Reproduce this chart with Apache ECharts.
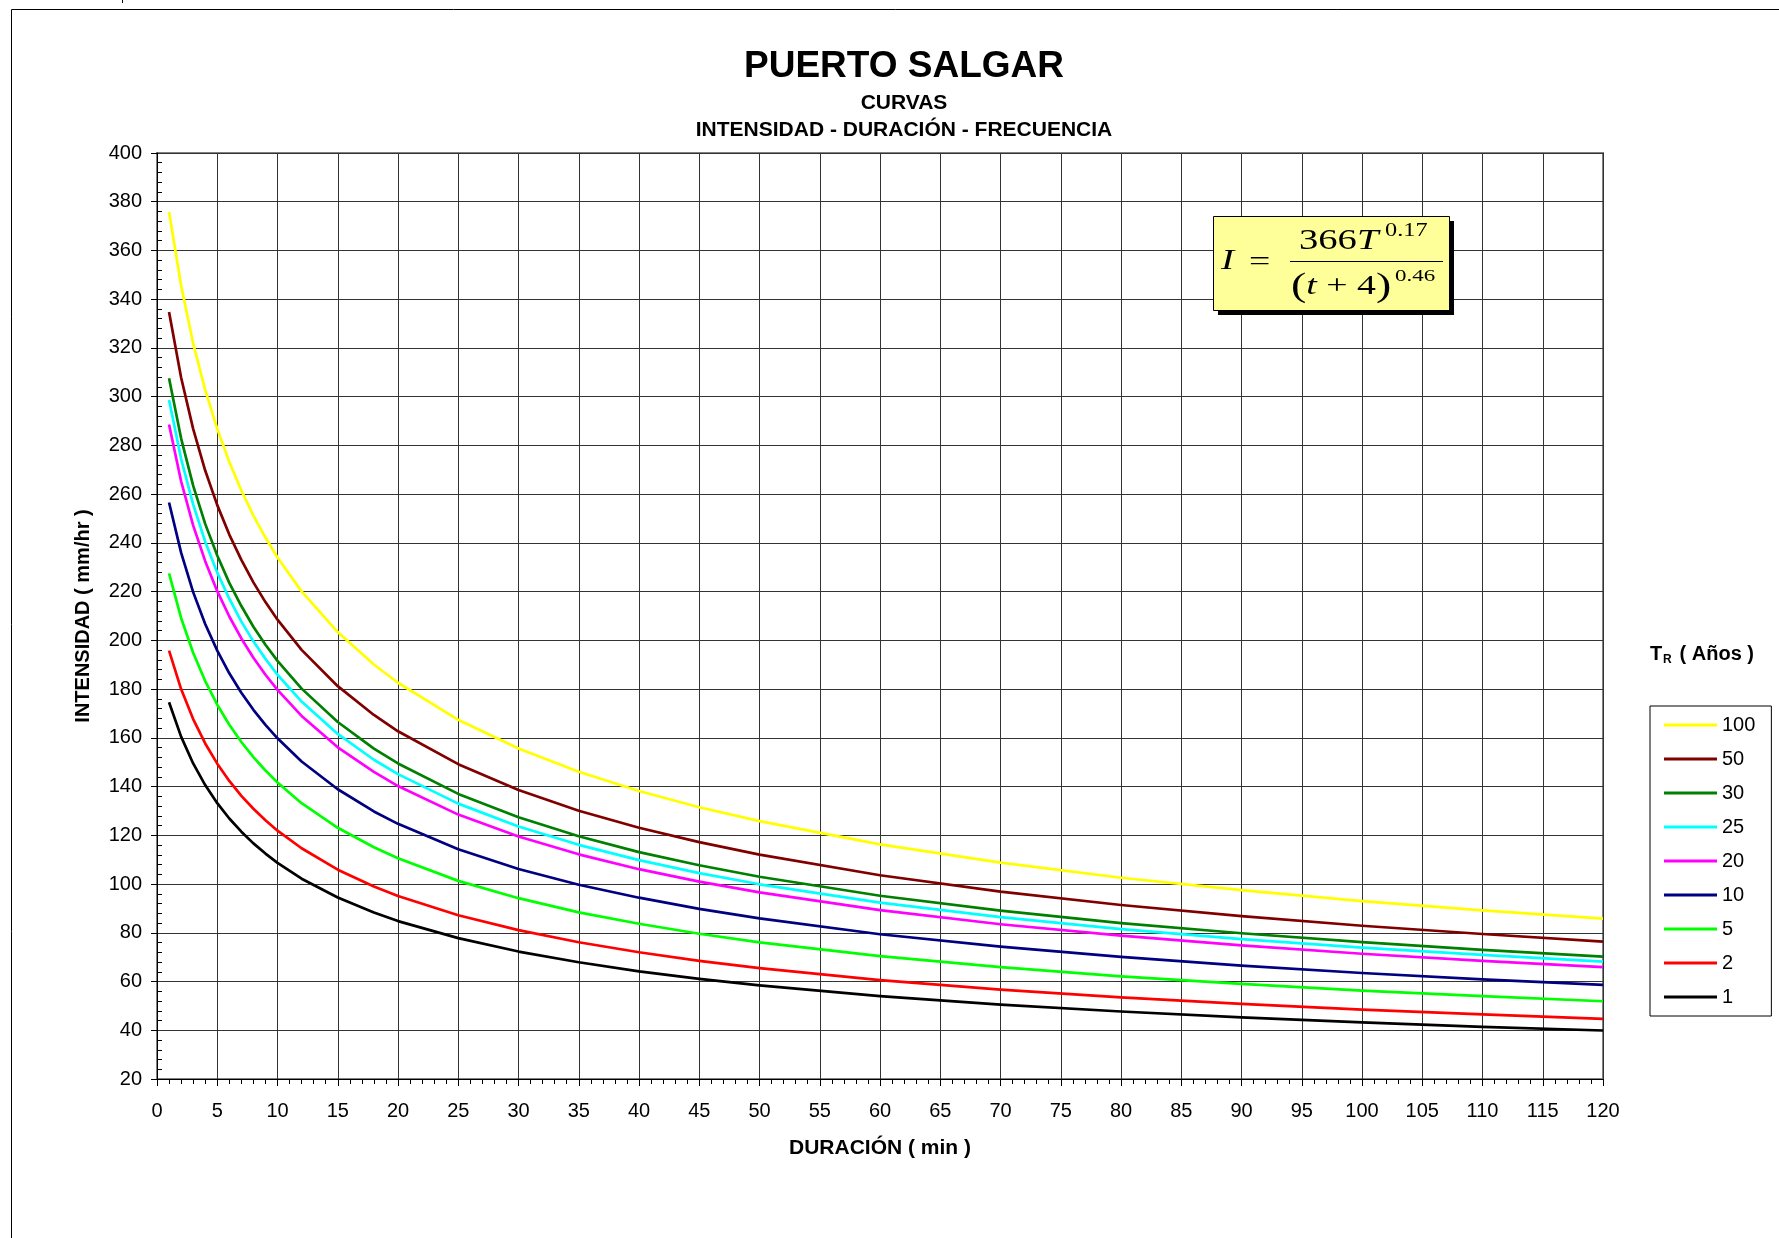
<!DOCTYPE html>
<html>
<head>
<meta charset="utf-8">
<script src="https://cdn.jsdelivr.net/npm/echarts@6/dist/echarts.min.js"></script>
<style>
html,body{margin:0;padding:0;background:#fff;}
#chart{width:1779px;height:1238px;}
</style>
</head>
<body>
<div id="chart"></div>
<script>
// Duración (min)
const durations = [1,2,3,4,5,6,7,8,9,10,12,15,18,20,25,30,35,40,45,50,60,70,80,90,100,110,120];
// Intensidad (mm/hr) por periodo de retorno
const tr100 = [375.8,345.6,321.9,302.8,286.8,273.2,261.5,251.2,242.2,234.0,220.1,203.4,190.1,182.6,167.4,155.6,146.1,138.2,131.5,125.8,116.3,108.8,102.6,97.5,93.0,89.2,85.8];
const tr50  = [334.8,307.9,286.8,269.7,255.5,243.4,233.0,223.8,215.7,208.5,196.1,181.2,169.4,162.7,149.2,138.6,130.1,123.1,117.2,112.1,103.6,96.9,91.4,86.8,82.9,79.5,76.4];
const tr30  = [307.6,282.9,263.5,247.8,234.8,223.6,214.1,205.6,198.2,191.6,180.2,166.5,155.6,149.5,137.0,127.4,119.6,113.1,107.7,103.0,95.2,89.1,84.0,79.8,76.2,73.0,70.2];
const tr25  = [298.6,274.5,255.8,240.5,227.8,217.1,207.7,199.6,192.4,185.9,174.9,161.6,151.0,145.1,133.0,123.6,116.1,109.8,104.5,99.9,92.4,86.4,81.5,77.4,73.9,70.9,68.2];
const tr20  = [288.6,265.3,247.2,232.5,220.2,209.8,200.8,192.9,185.9,179.7,169.0,156.1,146.0,140.2,128.5,119.5,112.2,106.1,101.0,96.6,89.3,83.5,78.8,74.8,71.4,68.5,65.9];
const tr10  = [256.6,236.0,219.8,206.7,195.8,186.5,178.5,171.5,165.3,159.8,150.3,138.9,129.8,124.7,114.3,106.2,99.7,94.4,89.8,85.9,79.4,74.3,70.1,66.5,63.5,60.9,58.6];
const tr5   = [227.5,209.2,194.9,183.3,173.6,165.4,158.3,152.1,146.6,141.7,133.2,123.1,115.1,110.6,101.3,94.2,88.4,83.7,79.6,76.1,70.4,65.9,62.1,59.0,56.3,54.0,51.9];
const tr2   = [195.8,180.0,167.7,157.7,149.4,142.3,136.2,130.9,126.2,121.9,114.7,105.9,99.0,95.1,87.2,81.1,76.1,72.0,68.5,65.5,60.6,56.7,53.5,50.8,48.5,46.5,44.7];
const tr1   = [174.6,160.5,149.5,140.6,133.2,126.9,121.5,116.7,112.5,108.7,102.2,94.5,88.3,84.8,77.8,72.3,67.9,64.2,61.1,58.4,54.0,50.5,47.7,45.3,43.2,41.4,39.9];

const seriesNames = ['100','50','30','25','20','10','5','2','1'];
const seriesValues = [tr100,tr50,tr30,tr25,tr20,tr10,tr5,tr2,tr1];
const seriesColors = ['#FFFF00','#800000','#008000','#00FFFF','#FF00FF','#000080','#00FF00','#FF0000','#000000'];

const FONT = '"Liberation Sans", Arial, sans-serif';
const SERIF = '"Liberation Serif", "Times New Roman", serif';

const chart = echarts.init(document.getElementById('chart'), null, {renderer:'canvas'});

const series = seriesNames.map((name, i) => ({
  name: name,
  type: 'line',
  data: durations.map((d, k) => [d, seriesValues[i][k]]),
  showSymbol: false,
  smooth: false,
  lineStyle: {color: seriesColors[i], width: 2.7, join: 'round'},
  itemStyle: {color: seriesColors[i]},
  z: 3
}));

function txt(x, y, text, size, opts) {
  opts = opts || {};
  return {
    type: 'text', x: x, y: y, z: 100,
    scaleX: opts.scaleX || 1,
    style: {
      text: text,
      fontSize: size,
      fontFamily: opts.family || FONT,
      fontWeight: opts.weight || 'normal',
      fontStyle: opts.style || 'normal',
      fill: '#000',
      align: opts.align || 'left',
      verticalAlign: 'middle',
      rich: opts.rich
    }
  };
}

const option = {
  animation: false,
  backgroundColor: '#ffffff',
  grid: {left: 157, top: 153, right: 176, bottom: 159, show: true, borderColor: '#808080', borderWidth: 2, backgroundColor: 'transparent'},
  xAxis: {
    type: 'value', min: 0, max: 120, interval: 5,
    name: 'DURACIÓN ( min )', nameLocation: 'middle', nameGap: 59,
    nameTextStyle: {fontFamily: FONT, fontSize: 21, fontWeight: 'bold', color: '#000'},
    axisLine: {show: true, lineStyle: {color: '#000', width: 1}},
    axisTick: {show: true, length: 7, lineStyle: {color: '#000'}},
    minorTick: {show: true, splitNumber: 5, length: 5, lineStyle: {color: '#000'}},
    axisLabel: {fontFamily: FONT, fontSize: 20, color: '#000', margin: 22},
    splitLine: {show: true, lineStyle: {color: '#333', width: 1}}
  },
  yAxis: {
    type: 'value', min: 20, max: 400, interval: 20,
    name: 'INTENSIDAD ( mm/hr )', nameLocation: 'middle', nameGap: 64,
    nameTextStyle: {fontFamily: FONT, fontSize: 20, fontWeight: 'bold', color: '#000'},
    axisLine: {show: true, lineStyle: {color: '#000', width: 1}},
    axisTick: {show: true, length: 6, lineStyle: {color: '#000'}},
    minorTick: {show: true, splitNumber: 5, length: -5, lineStyle: {color: '#000'}},
    axisLabel: {fontFamily: FONT, fontSize: 20, color: '#000', margin: 15},
    splitLine: {show: true, lineStyle: {color: '#333', width: 1}}
  },
  legend: {
    orient: 'vertical',
    left: 1650, top: 706,
    padding: [9, 16, 9, 14],
    borderColor: '#000', borderWidth: 1,
    itemWidth: 53, itemHeight: 3, itemGap: 14,
    icon: 'rect',
    selectedMode: false,
    textStyle: {fontFamily: FONT, fontSize: 20, color: '#000', lineHeight: 20},
    data: seriesNames
  },
  series: series,
  graphic: [
    // outer chart border
    {type: 'rect', z: 0, shape: {x: 11.5, y: 9.5, width: 1800, height: 1300}, style: {fill: 'none', stroke: '#000', lineWidth: 1}},
    {type: 'line', z: 0, shape: {x1: 122.5, y1: 0, x2: 122.5, y2: 3}, style: {stroke: '#000', lineWidth: 1}},
    // titles
    txt(904, 67, 'PUERTO SALGAR', 37, {weight: 'bold', align: 'center'}),
    txt(904, 103, 'CURVAS', 21, {weight: 'bold', align: 'center'}),
    txt(904, 130, 'INTENSIDAD - DURACIÓN - FRECUENCIA', 21, {weight: 'bold', align: 'center'}),
    // legend title
    txt(1650, 654, 'T', 20, {weight: 'bold'}),
    txt(1663, 660, 'R', 12, {weight: 'bold'}),
    txt(1674, 654, ' ( Años )', 20, {weight: 'bold'}),
    // formula box
    {type: 'rect', z: 90, shape: {x: 1218, y: 221, width: 236, height: 94}, style: {fill: '#000', stroke: 'none'}},
    {type: 'rect', z: 91, shape: {x: 1213.5, y: 216.5, width: 236, height: 94}, style: {fill: '#FFFF99', stroke: '#000', lineWidth: 1}},
    txt(1221, 261, 'I', 29, {family: SERIF, style: 'italic', scaleX: 1.35}),
    txt(1249, 263, '=', 28, {family: SERIF, scaleX: 1.35}),
    txt(1299, 241, '366', 29, {family: SERIF, scaleX: 1.33}),
    txt(1357, 241, 'T', 29, {family: SERIF, style: 'italic', scaleX: 1.33}),
    txt(1385, 231, '0.17', 18, {family: SERIF, scaleX: 1.35}),
    {type: 'line', z: 100, shape: {x1: 1290, y1: 261.5, x2: 1443, y2: 261.5}, style: {stroke: '#000', lineWidth: 1.2}},
    txt(1291, 287, '{p|(}{i|t}{n| + 4}{p|)}', 28, {family: SERIF, scaleX: 1.35, rich: {
      n: {fontSize: 28, fontFamily: SERIF, fill: '#000'},
      p: {fontSize: 34, fontFamily: SERIF, fill: '#000'},
      i: {fontSize: 28, fontFamily: SERIF, fontStyle: 'italic', fill: '#000'}
    }}),
    txt(1395, 277, '0.46', 17, {family: SERIF, scaleX: 1.35})
  ]
};

chart.setOption(option);
</script>
</body>
</html>
